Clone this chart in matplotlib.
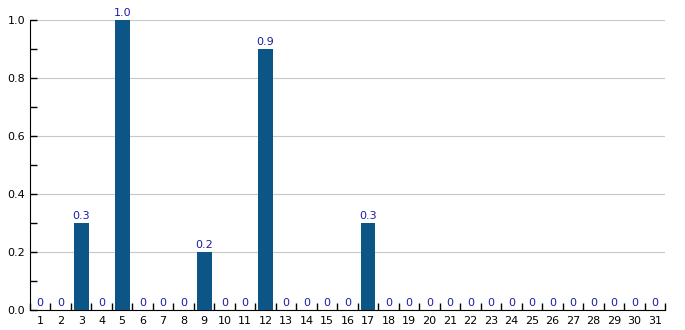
import matplotlib.pyplot as plt
import numpy as np

days = list(range(1, 32))
values = [0, 0, 0.3, 0, 1.0, 0, 0, 0, 0.2, 0, 0, 0.9, 0, 0, 0, 0,
          0.3, 0, 0, 0, 0, 0, 0, 0, 0, 0, 0, 0, 0, 0, 0]

fig = plt.figure(figsize=(6.85, 3.3), dpi=100)
ax = fig.add_axes([30 / 685, 20 / 330, 635 / 685, 290 / 330])

x = np.array(days)
ax.bar(x, values, width=0.73, color='#0b5686', zorder=3)

for xi, v in zip(x, values):
    label = '0' if v == 0 else f'{v:.1f}'
    ax.text(xi, v + 0.008, label, ha='center', va='bottom',
            fontsize=8, color='#1c1ca8', zorder=4)

ax.set_xlim(0.5, 31.5)
ax.set_ylim(0, 1.0)
ax.set_xticks(x)
ax.set_xticklabels([str(d) for d in days])
ax.set_xticks(np.arange(0.5, 32, 1), minor=True)
ax.tick_params(axis='x', which='major', length=0, labelsize=8, pad=4)
ax.tick_params(axis='x', which='minor', length=5, direction='in', width=1)

ax.set_yticks(np.arange(0, 1.01, 0.2))
ax.set_yticklabels([f'{t:.1f}' for t in np.arange(0, 1.01, 0.2)])
ax.set_yticks(np.arange(0.1, 1.0, 0.2), minor=True)
ax.tick_params(axis='y', which='both', length=5, direction='in', width=1, labelsize=8)

ax.grid(axis='y', which='major', color='#c8c8c8', linewidth=0.8, zorder=0)
ax.spines['top'].set_visible(False)
ax.spines['right'].set_visible(False)

fig.savefig('out.png', dpi=100)
